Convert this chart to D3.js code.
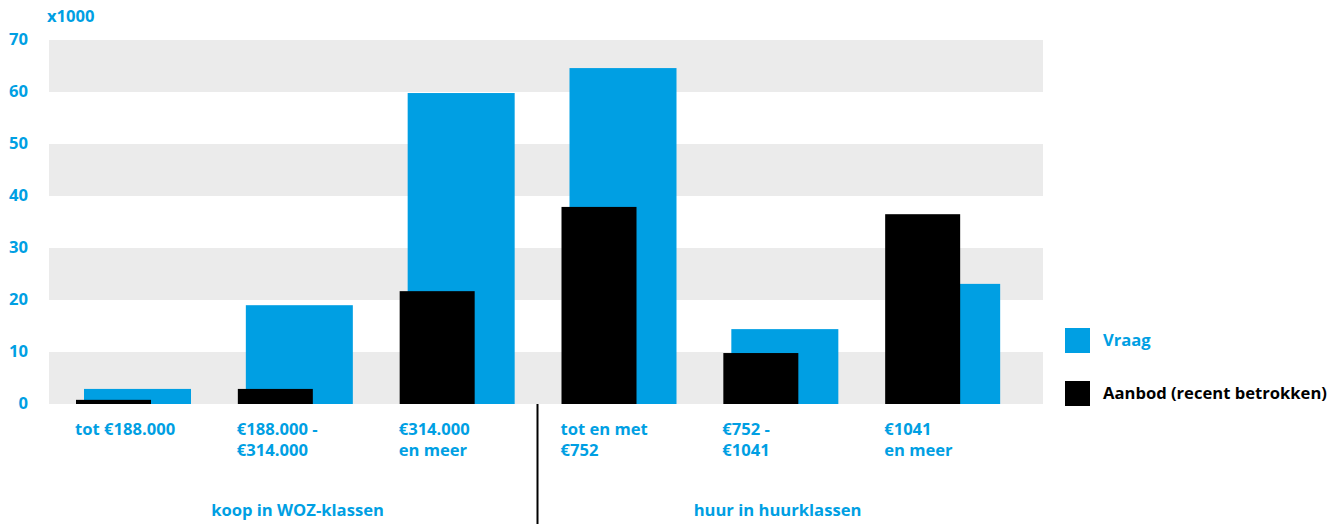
<!DOCTYPE html>
<html><head><meta charset="utf-8">
<script src="https://cdn.jsdelivr.net/npm/d3@7"></script>
<style>body{margin:0;background:#fff}svg{display:block}text{font-family:"Open Sans",Lato,sans-serif;font-weight:700}</style>
</head><body><svg id="c" width="1338" height="524"></svg>
<script>
const categories = ["tot €188.000", "€188.000 -|€314.000", "€314.000|en meer", "tot en met|€752", "€752 -|€1041", "€1041|en meer"];
const vraag = [2.9, 19.0, 59.8, 64.6, 14.4, 23.1];
const aanbod = [0.8, 2.9, 21.7, 37.9, 9.8, 36.5];
const yTicks = [0, 10, 20, 30, 40, 50, 60, 70];
const groups = [{label: "koop in WOZ-klassen", side: -1}, {label: "huur in huurklassen", side: 1}];
const seriesNames = ["Vraag", "Aanbod (recent betrokken)"];

const BLUE = "#009fe3", BLACK = "#000", GREY = "#ebebeb";
const FS = 16.6;
const svg = d3.select("#c");
const y = d3.scaleLinear().domain([0, 70]).range([404, 40]);
const x = d3.scaleBand().domain(categories).range([68, 1039]).padding(0);
const plotL = 49, plotR = 1043;

// grey bands
const bands = [[0,10],[20,30],[40,50],[60,70]];
svg.selectAll("rect.band").data(bands).enter().append("rect")
  .attr("x", plotL).attr("width", plotR - plotL)
  .attr("y", d => y(d[1])).attr("height", d => y(d[0]) - y(d[1])).attr("fill", GREY);

// y tick labels
svg.selectAll("text.yt").data(yTicks).enter().append("text")
  .attr("x", 28).attr("y", d => y(d)).attr("dy", "0.33em").attr("text-anchor", "end")
  .attr("fill", BLUE).attr("font-size", FS).text(d => d);
svg.append("text").attr("x", 47).attr("y", 22).attr("fill", BLUE).attr("font-size", FS).text("x1000");

// bars
const blueOff = 16, blueW = 107, blackOff = 8, blackW = 75;
svg.selectAll("rect.v").data(vraag).enter().append("rect")
  .attr("x", (d, i) => x(categories[i]) + blueOff).attr("width", blueW)
  .attr("y", d => y(d)).attr("height", d => y(0) - y(d)).attr("fill", BLUE);
svg.selectAll("rect.a").data(aanbod).enter().append("rect")
  .attr("x", (d, i) => x(categories[i]) + blackOff).attr("width", blackW)
  .attr("y", d => y(d)).attr("height", d => y(0) - y(d)).attr("fill", BLACK);

// category labels
categories.forEach((c, i) => {
  const lx = x(c) + 7;
  const t = svg.append("text").attr("x", lx).attr("y", 435).attr("fill", BLUE).attr("font-size", FS);
  c.split("|").forEach((line, j) => t.append("tspan").attr("x", lx).attr("dy", j ? 21 : 0).text(line));
});

// separator
const sepX = x(categories[3]) - blueOff;
svg.append("line").attr("x1", sepX).attr("x2", sepX).attr("y1", 404).attr("y2", 524).attr("stroke", BLACK).attr("stroke-width", 2);

// group labels
groups.forEach(g => {
  svg.append("text").attr("x", sepX + g.side * 240).attr("y", 516).attr("text-anchor", "middle").attr("fill", BLUE).attr("font-size", FS).text(g.label);
});

// legend
[BLUE, BLACK].forEach((col, i) => {
  const yy = 328 + i * 53;
  svg.append("rect").attr("x", 1065).attr("y", yy).attr("width", 25).attr("height", 25).attr("fill", col);
  svg.append("text").attr("x", 1103).attr("y", yy + 12.5).attr("dy", "0.35em").attr("fill", col).attr("font-size", FS).text(seriesNames[i]);
});
</script></body></html>
